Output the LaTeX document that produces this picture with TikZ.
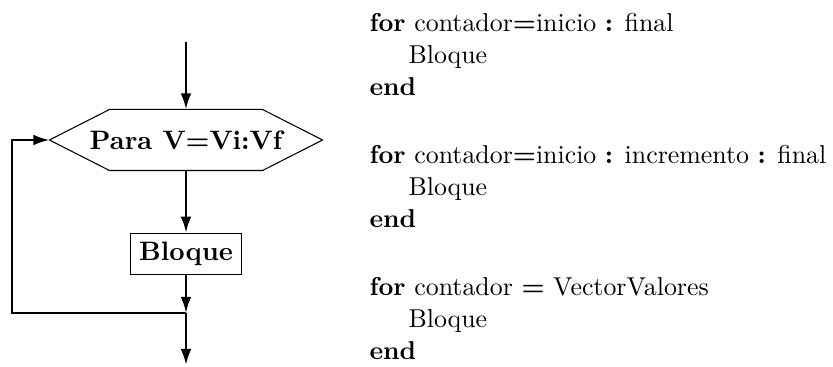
\documentclass[tikz,border=0pt]{standalone}
\usetikzlibrary{arrows.meta}
\begin{document}
\begin{tikzpicture}[x=0.375pt,y=0.375pt,
  flow/.style={line width=0.9pt,-{Latex[length=6pt,width=4pt]}},
  shapeline/.style={line width=0.4pt},
  code/.style={anchor=base west,inner sep=0pt,font=\fontsize{9.7pt}{12pt}\selectfont}]
\useasboundingbox (0,0) rectangle (833,-367);

% loop header (hexagon drawn around the label node)
\node[minimum width=102pt,minimum height=22.5pt,inner sep=0pt,font=\bfseries]
  (hex) at (186,-140) {Para V=Vi:Vf};
\draw[shapeline] (hex.west) -- ([xshift=22.5pt]hex.north west)
  -- ([xshift=-22.5pt]hex.north east) -- (hex.east)
  -- ([xshift=-22.5pt]hex.south east) -- ([xshift=22.5pt]hex.south west) -- cycle;

% body of the loop
\node[draw,shapeline,inner xsep=3.2pt,minimum height=15.4pt,font=\bfseries]
  (blk) at (186,-254) {Bloque};

% connectors
\coordinate (entry) at (186,-42);
\coordinate (join) at (186,-313);
\coordinate (back) at (12,-313);
\coordinate (exit) at (186,-365);
\draw[flow] (entry) -- (hex);
\draw[flow] (hex) -- (blk);
\draw[flow] (blk) -- (join);
\draw[flow] (join) -- (back) |- (hex.west);
\draw[flow] (join) -- (exit);

% MATLAB syntax of the for loop
\node[code] (f1) at (369,-32) {\textbf{for} contador\textbf{=}inicio \textbf{:} final};
\node[code] (b1) at (408,-64) {Bloque};
\node[code] (e1) at (369,-96) {\textbf{end}};
\node[code] (f2) at (369,-164) {\textbf{for} contador\textbf{=}inicio \textbf{:} incremento \textbf{:} final};
\node[code] (b2) at (408,-196) {Bloque};
\node[code] (e2) at (369,-228) {\textbf{end}};
\node[code] (f3) at (369,-296) {\textbf{for} contador \textbf{=} VectorValores};
\node[code] (b3) at (408,-328) {Bloque};
\node[code] (e3) at (369,-360) {\textbf{end}};
\end{tikzpicture}
\end{document}
